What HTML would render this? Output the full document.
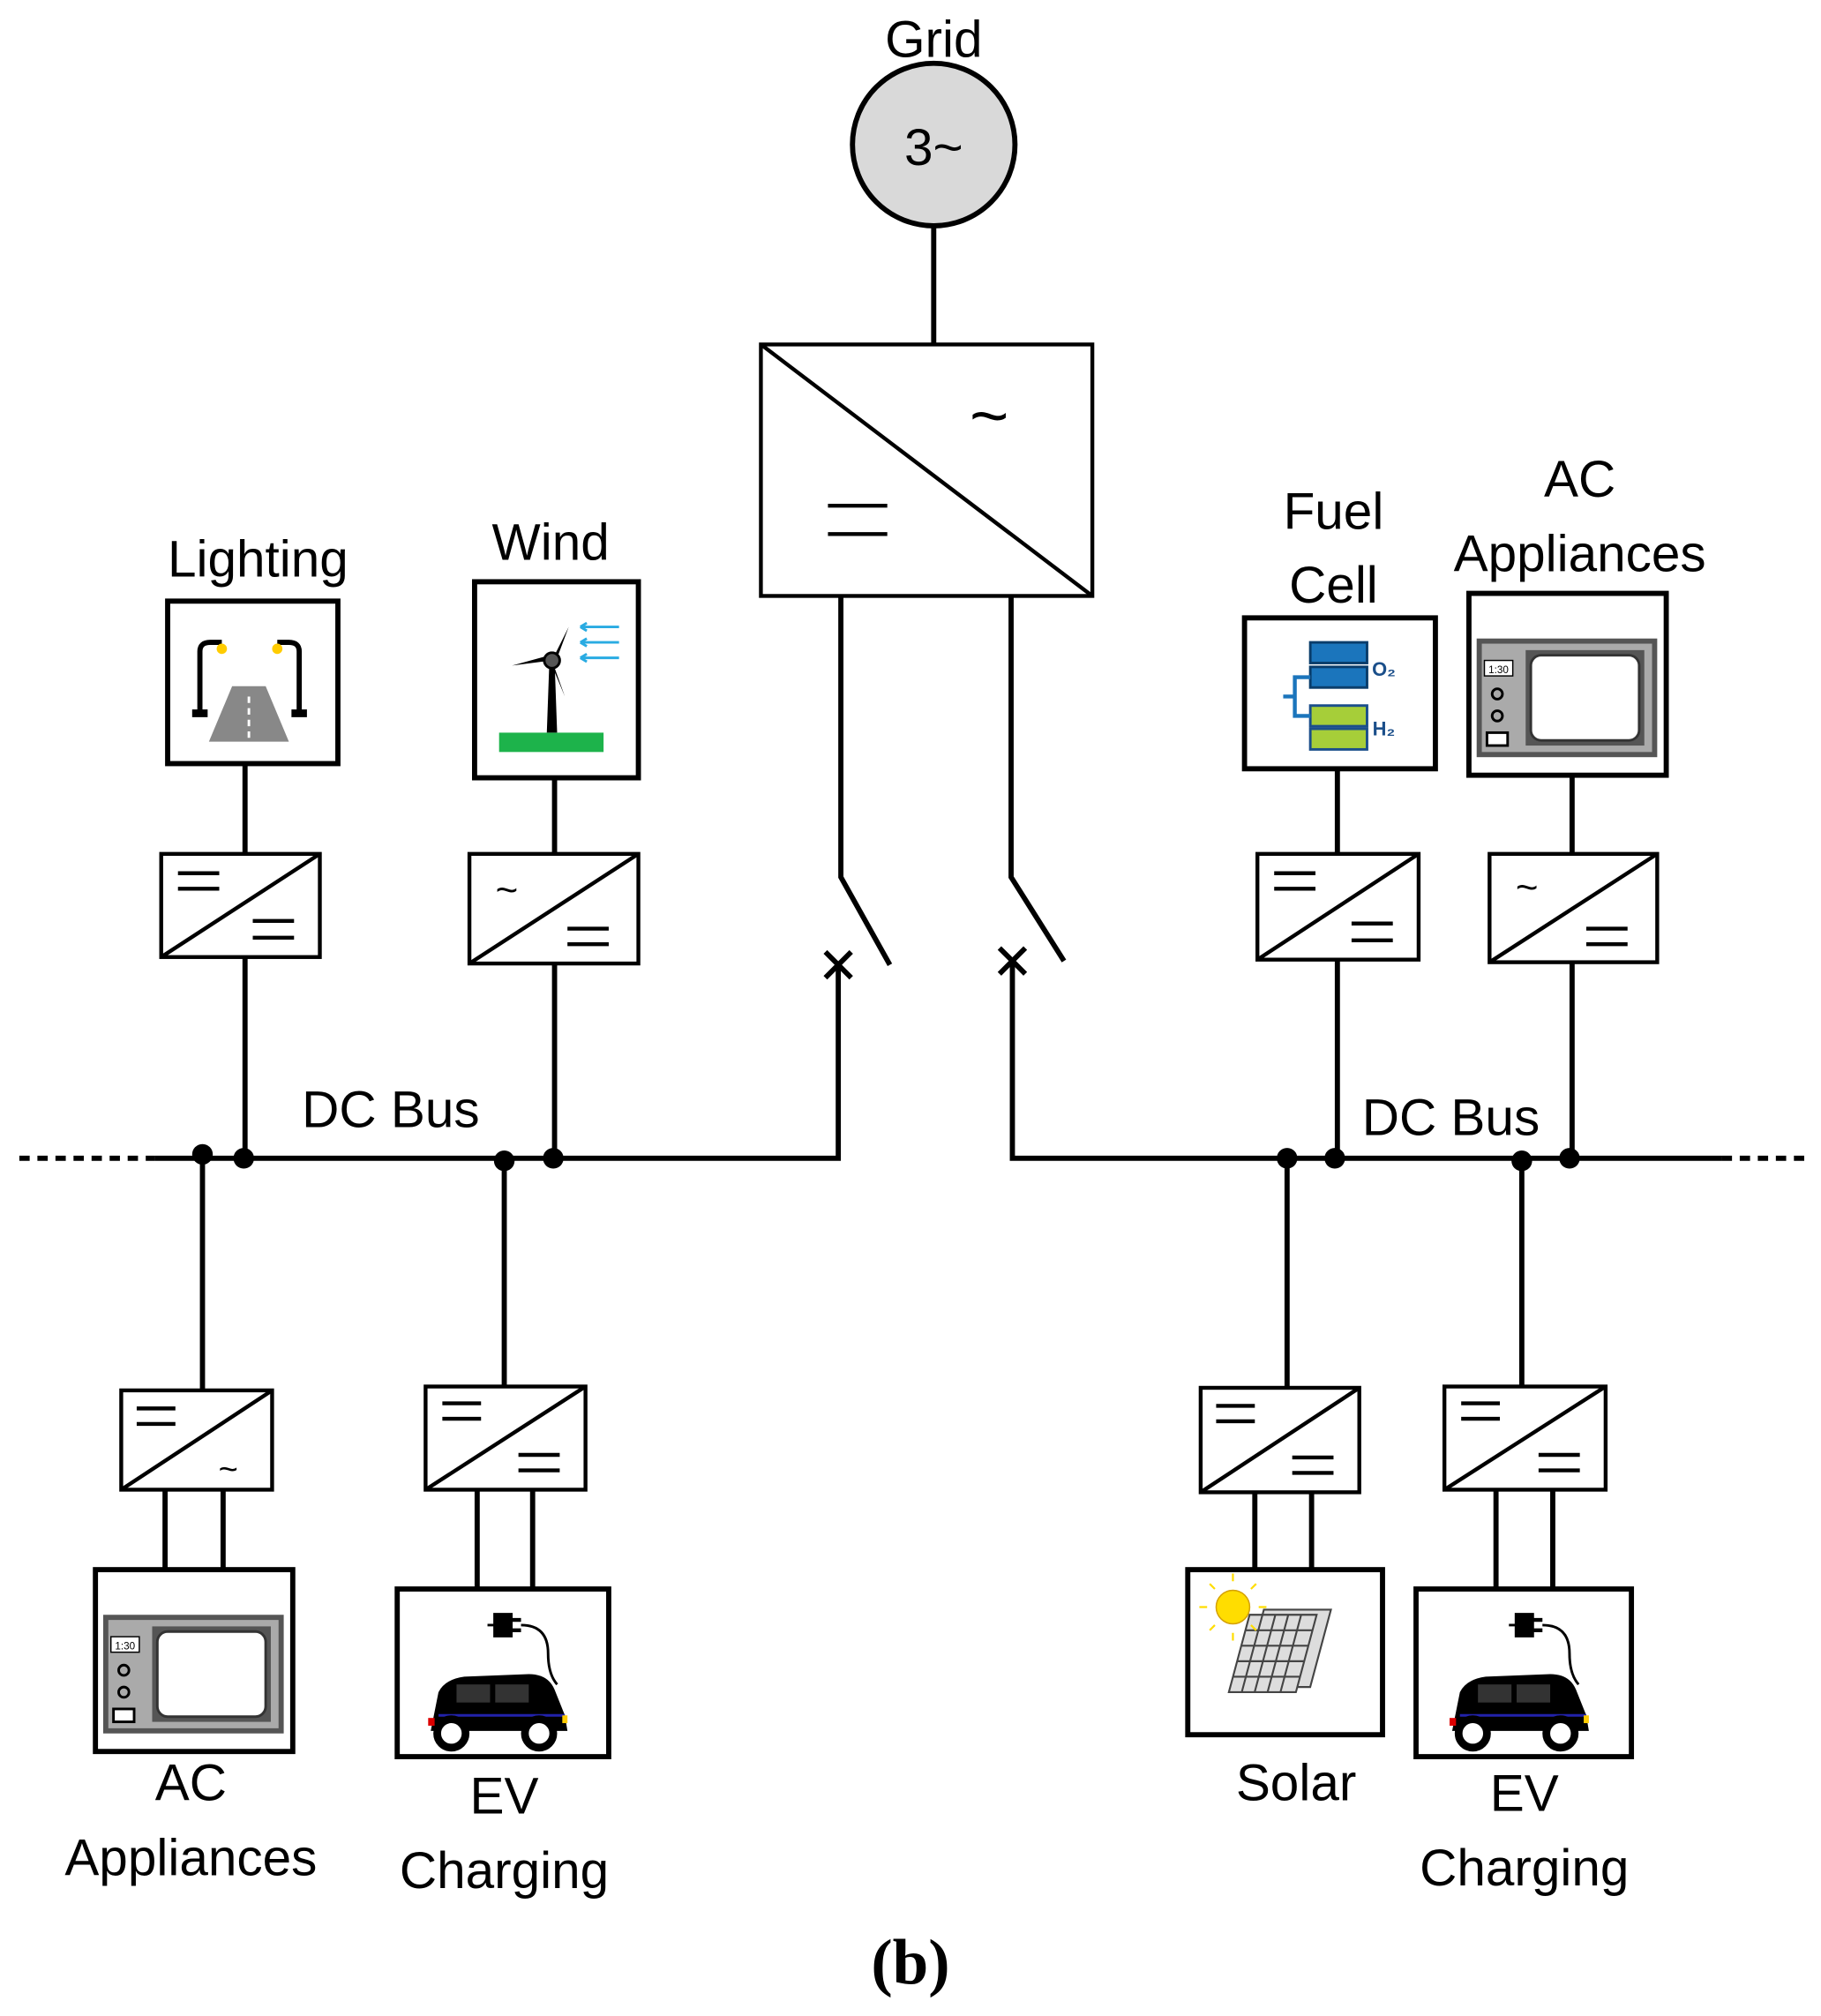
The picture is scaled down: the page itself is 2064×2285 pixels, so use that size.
<!DOCTYPE html>
<html><head><meta charset="utf-8"><style>
html,body{margin:0;padding:0;background:#fff}
svg{display:block}
text{font-family:"Liberation Sans",sans-serif;font-size:40px;fill:#000;text-anchor:middle}
</style></head><body>
<svg width="2064" height="2285" viewBox="0 0 1412 1563" xmlns="http://www.w3.org/2000/svg">
<defs>
<g id="micro">
<rect x="6" y="35" width="140" height="92" fill="#555"/>
<rect x="10" y="39" width="132" height="84" fill="#aaa"/>
<rect x="44" y="44" width="92" height="74" fill="#555"/>
<rect x="48" y="48" width="84" height="66" rx="8" fill="#fff" stroke="#333" stroke-width="2"/>
<rect x="12" y="52" width="22" height="12" fill="#fff" stroke="#000"/>
<text x="23" y="62" style="font-size:8px">1:30</text>
<circle cx="22" cy="78" r="4" fill="none" stroke="#000" stroke-width="2"/>
<circle cx="22" cy="95" r="4" fill="none" stroke="#000" stroke-width="2"/>
<rect x="14" y="108" width="16" height="10" fill="#fff" stroke="#000" stroke-width="2"/>
</g>
<g id="car">
<path d="M34 110 L40 80 Q45 70 60 68 L110 66 Q125 66 130 78 L138 98 L140 110 Z" fill="#000"/>
<rect x="54" y="74" width="26" height="14" fill="#333"/><rect x="84" y="74" width="26" height="14" fill="#333"/>
<line x1="40" y1="98" x2="138" y2="98" stroke="#22a" stroke-width="2"/>
<circle cx="50" cy="112" r="11" fill="#fff" stroke="#000" stroke-width="6"/>
<circle cx="118" cy="112" r="11" fill="#fff" stroke="#000" stroke-width="6"/>
<rect x="32" y="100" width="5" height="6" fill="#d00"/><rect x="136" y="98" width="4" height="6" fill="#fc0"/>
<path d="M84 20 h12 v16 h-12 z M96 24 h8 M96 32 h8" fill="#000" stroke="#000" stroke-width="3"/>
<path d="M78 28 h6 M104 28 Q125 28 125 50 Q125 66 132 74" fill="none" stroke="#000" stroke-width="2"/>
</g>
</defs>
<g stroke="#000" stroke-width="4" fill="none">
<!-- grid -->
<circle cx="724" cy="112" r="63" fill="#d9d9d9"/>
<line x1="724" y1="175" x2="724" y2="267"/>
<rect x="590" y="267" width="257" height="195" fill="#fff" stroke-width="3"/>
<line x1="590" y1="267" x2="847" y2="462" stroke-width="3"/>
<line x1="642" y1="392" x2="688" y2="392" stroke-width="3"/><line x1="642" y1="414" x2="688" y2="414" stroke-width="3"/>
<!-- switches -->
<path d="M652 462 V680 L690 748"/>
<path d="M640 738 L660 758 M660 738 L640 758"/>
<path d="M650 748 V898 H120"/>
<path d="M784 462 V680 L825 745"/>
<path d="M775 735 L795 755 M795 735 L775 755"/>
<path d="M785 745 V898 H1335"/>
<line x1="15" y1="898" x2="120" y2="898" stroke-dasharray="8,6"/>
<line x1="1335" y1="898" x2="1400" y2="898" stroke-dasharray="8,6"/>
<!-- lighting -->
<rect x="130" y="466" width="132" height="126"/>
<line x1="190" y1="592" x2="190" y2="898"/>
<rect x="125" y="662" width="123" height="80" fill="#fff" stroke-width="3"/>
<line x1="125" y1="742" x2="248" y2="662" stroke-width="3"/>
<!-- wind -->
<rect x="368" y="451" width="127" height="152"/>
<line x1="430" y1="603" x2="430" y2="898"/>
<rect x="364" y="662" width="131" height="85" fill="#fff" stroke-width="3"/>
<line x1="364" y1="747" x2="495" y2="662" stroke-width="3"/>
<!-- bottom left AC -->
<line x1="157" y1="898" x2="157" y2="1078"/>
<rect x="94" y="1078" width="117" height="77" fill="#fff" stroke-width="3"/>
<line x1="94" y1="1155" x2="211" y2="1078" stroke-width="3"/>
<line x1="128" y1="1155" x2="128" y2="1217"/><line x1="173" y1="1155" x2="173" y2="1217"/>
<rect x="74" y="1217" width="153" height="141"/>
<!-- EV left -->
<line x1="391" y1="898" x2="391" y2="1075"/>
<rect x="330" y="1075" width="124" height="80" fill="#fff" stroke-width="3"/>
<line x1="330" y1="1155" x2="454" y2="1075" stroke-width="3"/>
<line x1="370" y1="1155" x2="370" y2="1232"/><line x1="413" y1="1155" x2="413" y2="1232"/>
<rect x="308" y="1232" width="164" height="130"/>
<!-- fuel cell -->
<rect x="965" y="479" width="148" height="117"/>
<line x1="1037" y1="596" x2="1037" y2="898"/>
<rect x="975" y="662" width="125" height="82" fill="#fff" stroke-width="3"/>
<line x1="975" y1="744" x2="1100" y2="662" stroke-width="3"/>
<!-- AC right -->
<rect x="1139" y="460" width="153" height="141"/>
<line x1="1219" y1="601" x2="1219" y2="898"/>
<rect x="1155" y="662" width="130" height="84" fill="#fff" stroke-width="3"/>
<line x1="1155" y1="746" x2="1285" y2="662" stroke-width="3"/>
<!-- solar -->
<line x1="998" y1="898" x2="998" y2="1076"/>
<rect x="931" y="1076" width="123" height="81" fill="#fff" stroke-width="3"/>
<line x1="931" y1="1157" x2="1054" y2="1076" stroke-width="3"/>
<line x1="973" y1="1157" x2="973" y2="1217"/><line x1="1017" y1="1157" x2="1017" y2="1217"/>
<rect x="921" y="1217" width="151" height="128"/>
<!-- EV right -->
<line x1="1180" y1="898" x2="1180" y2="1075"/>
<rect x="1120" y="1075" width="125" height="80" fill="#fff" stroke-width="3"/>
<line x1="1120" y1="1155" x2="1245" y2="1075" stroke-width="3"/>
<line x1="1160" y1="1155" x2="1160" y2="1232"/><line x1="1204" y1="1155" x2="1204" y2="1232"/>
<rect x="1098" y="1232" width="167" height="130"/>
<!-- converter symbols -->
<g stroke-width="3">
<path d="M138 677h32M138 689h32M196 714h32M196 727h32"/>
<path d="M440 720h32M440 732h32"/>
<path d="M106 1092h30M106 1104h30"/>
<path d="M343 1088h30M343 1100h30M402 1128h32M402 1140h32"/>
<path d="M988 677h32M988 689h32M1048 716h32M1048 729h32"/>
<path d="M1230 720h32M1230 732h32"/>
<path d="M943 1090h30M943 1102h30M1002 1130h32M1002 1142h32"/>
<path d="M1133 1088h30M1133 1100h30M1193 1128h32M1193 1140h32"/>
</g>
</g>
<g fill="#000">
<circle cx="189" cy="898" r="8"/><circle cx="157" cy="895" r="8"/>
<circle cx="429" cy="898" r="8"/><circle cx="391" cy="900" r="8"/>
<circle cx="998" cy="898" r="8"/><circle cx="1035" cy="898" r="8"/>
<circle cx="1180" cy="900" r="8"/><circle cx="1217" cy="898" r="8"/>
</g>
<!-- tildes -->
<text x="767" y="340" style="font-size:52px">~</text>
<text x="393" y="700" style="font-size:30px">~</text>
<text x="177" y="1148" style="font-size:26px">~</text>
<text x="1184" y="698" style="font-size:30px">~</text>
<!-- icons -->
<g>
<path d="M162 575 L180 532 H206 L224 575 Z" fill="#888"/>
<line x1="193" y1="540" x2="193" y2="572" stroke="#fff" stroke-width="2" stroke-dasharray="5,4"/>
<path d="M155 552 V505 Q155 498 163 498 H172 M232 552 V505 Q232 498 224 498 H215" fill="none" stroke="#000" stroke-width="4"/>
<rect x="149" y="550" width="12" height="6"/><rect x="226" y="550" width="12" height="6"/>
<circle cx="172" cy="503" r="4" fill="#fc0"/><circle cx="215" cy="503" r="4" fill="#fc0"/>
</g>
<g>
<rect x="387" y="568" width="81" height="15" fill="#1db34b"/>
<path d="M426 512 L424 568 H432 L430 512Z" fill="#000"/>
<path d="M428 512 L441 486 L432 510Z M428 512 L397 516 L426 508Z M428 512 L438 540 L428 516Z" fill="#000"/>
<circle cx="428" cy="512" r="6" fill="#555" stroke="#000" stroke-width="2"/>
<path d="M450 486h30M450 498h30M450 510h30M450 486l5-3M450 486l5 3M450 498l5-3M450 498l5 3M450 510l5-3M450 510l5 3" stroke="#29abe2" stroke-width="2"/>
</g>
<g>
<rect x="1016" y="498" width="44" height="16" fill="#1b75bc" stroke="#0a3d6b" stroke-width="2"/>
<rect x="1016" y="517" width="44" height="16" fill="#1b75bc" stroke="#0a3d6b" stroke-width="2"/>
<rect x="1016" y="547" width="44" height="16" fill="#a6ce39" stroke="#1b4f8a" stroke-width="2"/>
<rect x="1016" y="565" width="44" height="16" fill="#a6ce39" stroke="#1b4f8a" stroke-width="2"/>
<path d="M1016 525 H1004 V555 H1016 M995 540 H1004" fill="none" stroke="#1b75bc" stroke-width="3"/>
<text x="1073" y="524" style="font-size:15px;font-weight:bold;fill:#1b4f8a">O₂</text>
<text x="1073" y="570" style="font-size:15px;font-weight:bold;fill:#1b4f8a">H₂</text>
</g>
<use href="#micro" x="1139" y="460"/>
<use href="#micro" x="74" y="1217"/>
<use href="#car" x="300" y="1232"/>
<use href="#car" x="1092" y="1232"/>
<g>
<g transform="translate(970,1248) skewX(-15)" stroke="#444" stroke-width="1.5" fill="#ddd">
<rect x="10" y="0" width="52" height="60"/>
<rect x="0" y="4" width="52" height="60"/>
<path d="M0 16h52M0 28h52M0 40h52M0 52h52M10 4v60M20 4v60M30 4v60M40 4v60" fill="none"/>
</g>
<circle cx="956" cy="1246" r="13" fill="#ffdd00" stroke="#d4a000" stroke-width="1"/>
<path d="M956 1226v-6M956 1266v6M936 1246h-6M976 1246h6M942 1232l-4-4M970 1260l4 4M942 1260l-4 4M970 1232l4-4" stroke="#ffdd00" stroke-width="1.5"/>
</g>
<!-- labels -->
<text x="724" y="44">Grid</text>
<text x="724" y="128">3~</text>
<text x="200" y="447">Lighting</text>
<text x="427" y="434">Wind</text>
<text x="1034" y="410">Fuel</text>
<text x="1034" y="467">Cell</text>
<text x="1225" y="385">AC</text>
<text x="1225" y="443">Appliances</text>
<text x="303" y="874">DC Bus</text>
<text x="1125" y="880">DC Bus</text>
<text x="148" y="1396">AC</text>
<text x="148" y="1454">Appliances</text>
<text x="391" y="1406">EV</text>
<text x="391" y="1464">Charging</text>
<text x="1005" y="1396">Solar</text>
<text x="1182" y="1404">EV</text>
<text x="1182" y="1462">Charging</text>
<text x="706" y="1538" style="font-family:'Liberation Serif',serif;font-weight:bold;font-size:50px">(b)</text>
</svg>
</body></html>
